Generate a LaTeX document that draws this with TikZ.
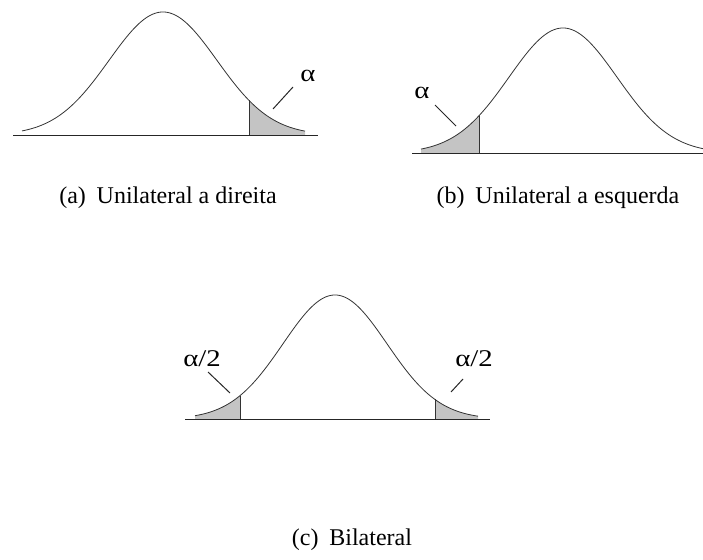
\documentclass[tikz,border=0pt]{standalone}
\usepackage{fontspec}
\setmainfont{Liberation Serif}
\begin{document}
\begin{tikzpicture}[x=1pt,y=-1pt,
  curve/.style={draw=black!80, line width=0.8pt},
  axis/.style={draw=black!85, line width=1pt},
  tail/.style={fill=black!23},
  edge/.style={draw=black!80, line width=0.8pt},
  lead/.style={draw=black!85, line width=1pt},
  lab/.style={font=\fontsize{24}{26}\selectfont, inner sep=0pt, xscale=1.2},
  captext/.style={font=\fontsize{24}{26}\selectfont, inner sep=0pt}]
\useasboundingbox (0,0) rectangle (703,559);
% ---------- (a)
\def\ga#1{135-123*exp(-0.5*((#1-163)/54)^2)}
\fill[tail] (249,135) -- plot[domain=249:305,samples=40] (\x,{\ga{\x}}) -- (305,135) -- cycle;
\draw[curve] plot[domain=22:305,samples=150] (\x,{\ga{\x}});
\draw[edge] (249,135) -- (249,{\ga{249}});
\draw[axis] (13,135) -- (318,135);
\node[lab] (la) at (308,76) {α};
\draw[lead] (293,87) -- (273,109);
\node[captext] (ca) at (168,198) {(a)\hspace{0.45em}Unilateral a direita};
% ---------- (b)
\def\gb#1{153-125*exp(-0.5*((#1-563)/54)^2)}
\fill[tail] (421,153) -- plot[domain=421:479,samples=40] (\x,{\gb{\x}}) -- (479,153) -- cycle;
\draw[curve] plot[domain=421:703,samples=150] (\x,{\gb{\x}});
\draw[edge] (479,153) -- (479,{\gb{479}});
\draw[axis] (412,153) -- (703,153);
\node[lab] (lb) at (422,93) {α};
\draw[lead] (435,105) -- (456,126);
\node[captext] (cb) at (558,198) {(b)\hspace{0.45em}Unilateral a esquerda};
% ---------- (c)
\def\gc#1{419-124*exp(-0.5*((#1-335)/52)^2)}
\fill[tail] (195,419) -- plot[domain=195:240,samples=40] (\x,{\gc{\x}}) -- (240,419) -- cycle;
\fill[tail] (435,419) -- plot[domain=435:478,samples=40] (\x,{\gc{\x}}) -- (478,419) -- cycle;
\draw[curve] plot[domain=195:478,samples=150] (\x,{\gc{\x}});
\draw[edge] (240,419) -- (240,{\gc{240}});
\draw[edge] (435,419) -- (435,{\gc{435}});
\draw[axis] (185,419) -- (490,419);
\node[lab] (lc1) at (202,359) {α/2};
\node[lab] (lc2) at (474,359) {α/2};
\draw[lead] (208,372) -- (230,393);
\draw[lead] (463,379) -- (451,392);
\node[captext] (cc) at (352,540) {(c)\hspace{0.45em}Bilateral};
\end{tikzpicture}
\end{document}
